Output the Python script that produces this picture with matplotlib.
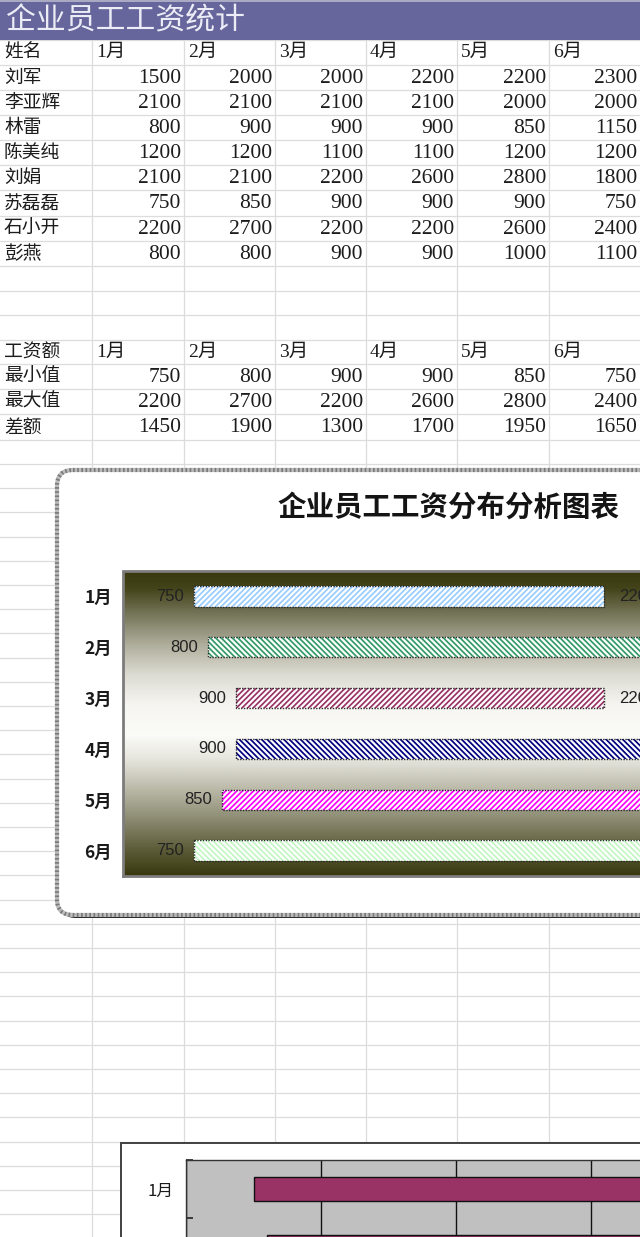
import numpy as np
import matplotlib
matplotlib.use('Agg')
import matplotlib.pyplot as plt
from matplotlib.patches import Rectangle, FancyBboxPatch
from matplotlib.colors import LinearSegmentedColormap

CJK = 'Noto Sans CJK SC'
plt.rcParams['font.family'] = ['Liberation Serif', CJK, 'DejaVu Sans']
plt.rcParams['hatch.linewidth'] = 1.25

# ---------------- data ----------------
sheet_title = '企业员工工资统计'
chart_title = '企业员工工资分布分析图表'
header_name = '姓名'
header_stat = '工资额'
months = ['1月', '2月', '3月', '4月', '5月', '6月']
names = ['刘军', '李亚辉', '林雷', '陈美纯', '刘娟', '苏磊磊', '石小开', '彭燕']
sal_liujun = [1500, 2000, 2000, 2200, 2200, 2300]
sal_liyahui = [2100, 2100, 2100, 2100, 2000, 2000]
sal_linlei = [800, 900, 900, 900, 850, 1150]
sal_chenmeichun = [1200, 1200, 1100, 1100, 1200, 1200]
sal_liujuan = [2100, 2100, 2200, 2600, 2800, 1800]
sal_sulei = [750, 850, 900, 900, 900, 750]
sal_shixiaokai = [2200, 2700, 2200, 2200, 2600, 2400]
sal_pengyan = [800, 800, 900, 900, 1000, 1100]
salaries = [sal_liujun, sal_liyahui, sal_linlei, sal_chenmeichun,
            sal_liujuan, sal_sulei, sal_shixiaokai, sal_pengyan]
stat_labels = ['最小值', '最大值', '差额']
min_vals = [750, 800, 900, 900, 850, 750]
max_vals = [2200, 2700, 2200, 2600, 2800, 2400]
diff_vals = [1450, 1900, 1300, 1700, 1950, 1650]

# ---------------- styling ----------------
W, H = 640, 1237
fig = plt.figure(figsize=(6.4, 12.37), dpi=100)
fig.patch.set_facecolor('white')
bg = fig.add_axes([0, 0, 1, 1])
bg.set_xlim(0, W)
bg.set_ylim(H, 0)
bg.axis('off')


def fax(x0, y0, x1, y1, **kw):
    return fig.add_axes([x0 / W, 1 - y1 / H, (x1 - x0) / W, (y1 - y0) / H], **kw)


col_x = [0, 92, 184, 275, 366, 457, 549, 640]
row_y = [40, 65, 90, 115, 140, 165, 190, 216, 241, 266, 291, 315, 340, 364, 389, 414, 440, 464]
y = 464
while y < H:
    y += 24.2
    row_y.append(y)

grid_c = '#dcdcdc'
for x in col_x[1:-1]:
    bg.plot([x, x], [40, H], color=grid_c, lw=0.9, zorder=1)
for yy in row_y:
    bg.plot([0, W], [yy, yy], color=grid_c, lw=0.9, zorder=1)

# title bar
bg.add_patch(Rectangle((0, 0), W, 40, facecolor='#66669c', edgecolor='none', zorder=2))
bg.add_patch(Rectangle((0, 0), W, 2, facecolor='#a9a9c4', edgecolor='none', zorder=2))
bg.text(6, 21, sheet_title, fontsize=21.5, color='#ececf6', ha='left', va='center',
        family=[CJK], zorder=3)

txt_c = '#1c1c1c'


def row_center(i):
    return (row_y[i] + row_y[i + 1]) / 2


def put_header(ri, first):
    yc = row_center(ri)
    bg.text(4, yc, first, fontsize=13.5, color=txt_c, ha='left', va='center', family=[CJK], zorder=3)
    for j, m in enumerate(months):
        bg.text(col_x[j + 1] + 4, yc, m, fontsize=14, color=txt_c, ha='left', va='center',
                family=['Liberation Serif', CJK], zorder=3)


def put_row(ri, label, vals):
    yc = row_center(ri)
    bg.text(4, yc, label, fontsize=13.5, color=txt_c, ha='left', va='center', family=[CJK], zorder=3)
    for j, v in enumerate(vals):
        bg.text(col_x[j + 2] - 3, yc + 1, str(v), fontsize=15.5, color=txt_c, ha='right',
                va='center', family=['Liberation Serif'], zorder=3)


put_header(0, header_name)
for i, (n, vals) in enumerate(zip(names, salaries)):
    put_row(i + 1, n, vals)
put_header(12, header_stat)
for i, (lab, vals) in enumerate(zip(stat_labels, [min_vals, max_vals, diff_vals])):
    put_row(13 + i, lab, vals)

# ---------------- chart 1 ----------------
bg.add_patch(FancyBboxPatch((60, 473), 720, 445, boxstyle='round,pad=0,rounding_size=16',
                            facecolor='#1e1e1e', edgecolor='none', zorder=5))
bg.add_patch(FancyBboxPatch((57, 470), 720, 445, boxstyle='round,pad=0,rounding_size=16',
                            facecolor='white', edgecolor='#bcbcbc', lw=3.0, zorder=6))
bg.add_patch(FancyBboxPatch((57, 470), 720, 445, boxstyle='round,pad=0,rounding_size=16',
                            facecolor='none', edgecolor='#7a7a7a', lw=3.0,
                            linestyle=(0, (0.4, 0.6)), zorder=7))
bg.text(449, 508, chart_title, fontsize=20.5, fontweight='bold', color='#141414',
        ha='center', va='center', family=[CJK], zorder=8)

px_per = 0.2828
ax_min1, ax_max1 = 500, 3000
p1 = (123, 571, 123 + (ax_max1 - ax_min1) * px_per, 876)

gax = fax(*p1)
stops = [(0.0, '#37370e'), (0.06, '#45451c'), (0.14, '#747458'), (0.24, '#aeac9a'),
         (0.34, '#dcdbd2'), (0.44, '#f6f5f1'), (0.54, '#fbfbf8'), (0.62, '#e6e5dd'),
         (0.72, '#b9b8a7'), (0.82, '#8a8970'), (0.92, '#5a5a36'), (1.0, '#38380f')]
cmap = LinearSegmentedColormap.from_list('bg_grad', stops)
gax.imshow(np.linspace(0, 1, 400).reshape(-1, 1), cmap=cmap, aspect='auto',
           extent=[0, 1, 0, 1], origin='upper')
gax.axis('off')

ax1 = fax(*p1)
ax1.set_facecolor('none')
bar_colors = ['#99ccff', '#339966', '#993366', '#000080', '#ff00ff', '#c4f7c4']
hatches = ['//////', '\\\\\\\\\\\\', '//////', '\\\\\\\\\\\\', '//////', '\\\\\\\\\\\\']
ypos = np.arange(len(months))
bars = ax1.barh(ypos, diff_vals, left=min_vals, height=0.4, color='white', lw=0)
for b, c, h in zip(bars, bar_colors, hatches):
    b.set_edgecolor(c)
    b.set_hatch(h)
    b.set_linewidth(0)
ax1.barh(ypos, diff_vals, left=min_vals, height=0.4, fill=False, edgecolor='#2a2a2a',
         lw=1.0, linestyle=(0, (1, 1)))
for i in range(len(months)):
    ax1.annotate(str(min_vals[i]), xy=(min_vals[i], ypos[i]), xytext=(-10, 0),
                 textcoords='offset pixels', ha='right', va='center', fontsize=12,
                 color='#222222', family=['Liberation Sans'])
    ax1.annotate(str(max_vals[i]), xy=(max_vals[i], ypos[i]), xytext=(15, 0),
                 textcoords='offset pixels', ha='left', va='center', fontsize=12,
                 color='#222222', family=['Liberation Sans'])
ax1.set_xlim(ax_min1, ax_max1)
ax1.set_ylim(len(months) - 0.5, -0.5)
ax1.set_xticks([])
ax1.set_yticks(ypos)
ax1.set_yticklabels(months, family=[CJK], fontsize=12.5, fontweight='bold', color='#1a1a1a')
ax1.tick_params(axis='y', length=0, pad=8)
for s in ax1.spines.values():
    s.set_color('#7c7c7c')
    s.set_linewidth(2.0)
    s.set_linestyle((0, (1, 1)))

# ---------------- chart 2 ----------------
bg.add_patch(Rectangle((121, 1143), 700, 300, facecolor='white', edgecolor='#404040',
                       lw=1.4, zorder=5))
px_per2 = 0.27
ax_min2, ax_max2 = 500, 3000
cat_h2 = 58
ax2 = fax(186, 1160, 186 + (ax_max2 - ax_min2) * px_per2, 1160 + cat_h2 * len(months))
ax2.set_facecolor('#c0c0c0')
ax2.barh(ypos, diff_vals, left=min_vals, height=0.4, color='#993366', edgecolor='#111111',
         lw=1.0, zorder=3)
ax2.set_xlim(ax_min2, ax_max2)
ax2.set_ylim(len(months) - 0.5, -0.5)
ax2.set_xticks(np.arange(ax_min2, ax_max2 + 1, 500))
ax2.xaxis.grid(True, color='#111111', lw=1.0, zorder=1)
ax2.set_axisbelow(True)
ax2.tick_params(axis='x', length=0, labelbottom=False)
ax2.set_yticks(np.arange(-0.5, len(months), 1.0))
ax2.set_yticklabels([])
ax2.set_yticks(ypos, minor=True)
ax2.set_yticklabels(months, minor=True, family=[CJK], fontsize=12, color='#1a1a1a')
ax2.tick_params(axis='y', which='major', direction='in', length=5, width=1.2, color='#222222')
ax2.tick_params(axis='y', which='minor', length=0, pad=9)
for s in ax2.spines.values():
    s.set_color('#333333')
    s.set_linewidth(1.0)

fig.savefig('out.png', dpi=100, facecolor='white')
